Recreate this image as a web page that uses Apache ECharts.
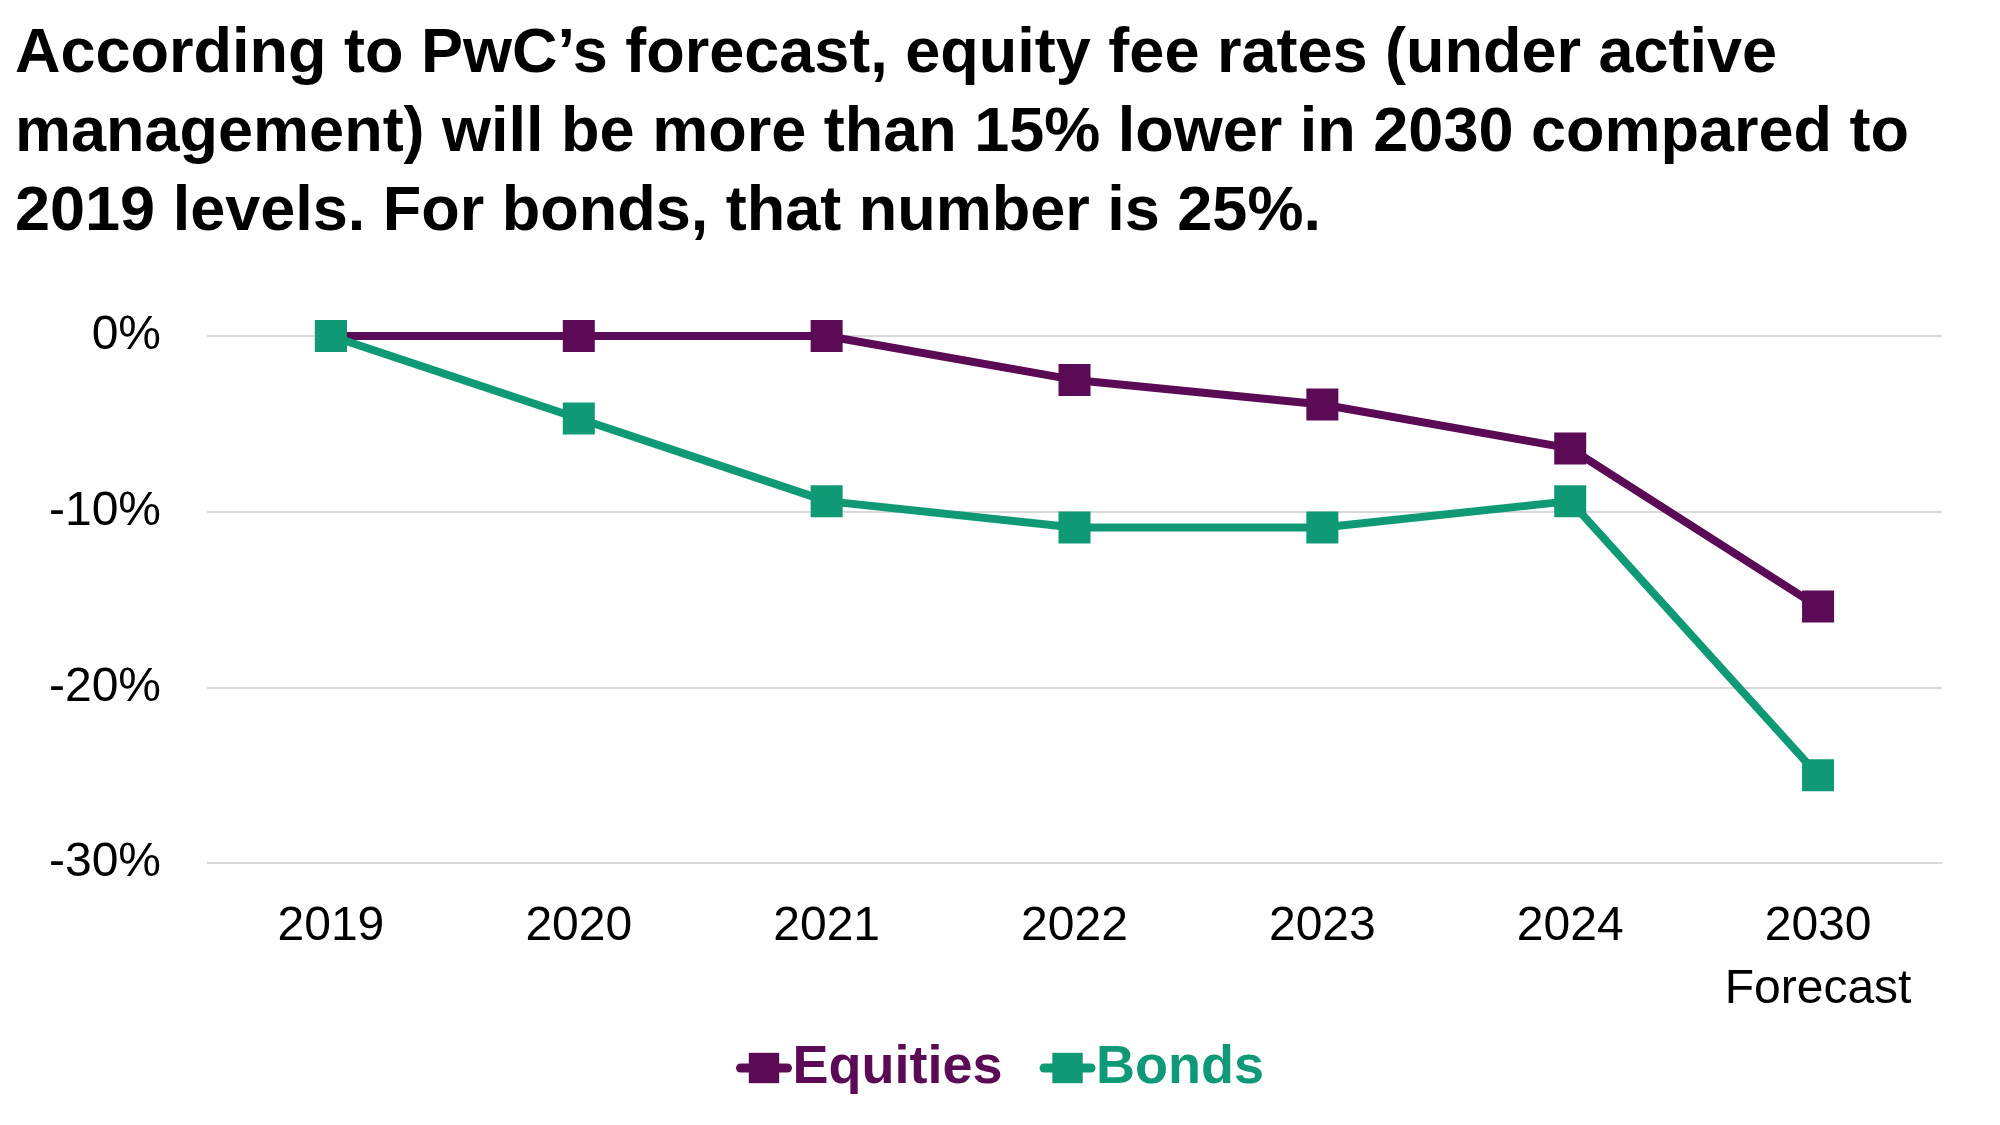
<!DOCTYPE html>
<html>
<head>
<meta charset="utf-8">
<script src="https://cdn.jsdelivr.net/npm/echarts@6/dist/echarts.min.js"></script>
<style>
html,body{margin:0;padding:0;background:#fff;}
#chart{width:2000px;height:1125px;}
</style>
</head>
<body>
<div id="chart"></div>
<script>
var titleLines = [
  "According to PwC\u2019s forecast, equity fee rates (under active",
  "management) will be more than 15% lower in 2030 compared to",
  "2019 levels. For bonds, that number is 25%."
];
var categories = ["2019", "2020", "2021", "2022", "2023", "2024", "2030\nForecast"];
var equities = [0, 0, 0, -2.5, -3.9, -6.4, -15.4];
var bonds = [0, -4.7, -9.4, -10.9, -10.9, -9.4, -25.0];
var yTicks = { min: -30, max: 0, interval: 10 };

var purple = "#5B0B55";
var green = "#0F9A75";

var chart = echarts.init(document.getElementById("chart"), null, { renderer: "canvas" });
chart.setOption({
  backgroundColor: "#ffffff",
  animation: false,
  title: {
    text: titleLines.join("\n"),
    left: 10,
    top: 10,
    textStyle: {
      fontFamily: "Liberation Sans, Arial, sans-serif",
      fontWeight: "bold",
      fontSize: 63,
      lineHeight: 79,
      color: "#000000"
    }
  },
  legend: {
    data: [
      { name: "Equities", textStyle: { color: purple } },
      { name: "Bonds", textStyle: { color: green } }
    ],
    left: "center",
    top: 1036,
    itemWidth: 47,
    itemHeight: 38,
    itemGap: 37,
    lineStyle: { width: 9, cap: "round" },
    textStyle: {
      fontFamily: "Liberation Sans, Arial, sans-serif",
      fontWeight: "bold",
      fontSize: 54
    }
  },
  grid: {
    left: 207,
    right: 58,
    top: 336,
    bottom: 262,
    containLabel: false
  },
  xAxis: {
    type: "category",
    data: categories,
    boundaryGap: true,
    axisLine: { show: false },
    axisTick: { show: false },
    axisLabel: {
      color: "#000000",
      fontFamily: "Liberation Sans, Arial, sans-serif",
      fontSize: 48,
      lineHeight: 63,
      margin: 32,
      interval: 0
    }
  },
  yAxis: {
    type: "value",
    min: yTicks.min,
    max: yTicks.max,
    interval: yTicks.interval,
    axisLine: { show: false },
    axisTick: { show: false },
    splitLine: { lineStyle: { color: "#D9D9D9", width: 2 } },
    axisLabel: {
      color: "#000000",
      fontFamily: "Liberation Sans, Arial, sans-serif",
      fontSize: 48,
      margin: 46,
      formatter: "{value}%"
    }
  },
  series: [
    {
      name: "Equities",
      type: "line",
      data: equities,
      clip: false,
      symbol: "rect",
      symbolSize: 32,
      lineStyle: { color: purple, width: 8 },
      itemStyle: { color: purple },
      z: 2
    },
    {
      name: "Bonds",
      type: "line",
      data: bonds,
      clip: false,
      symbol: "rect",
      symbolSize: 32,
      lineStyle: { color: green, width: 8 },
      itemStyle: { color: green },
      z: 3
    }
  ]
});
</script>
</body>
</html>
